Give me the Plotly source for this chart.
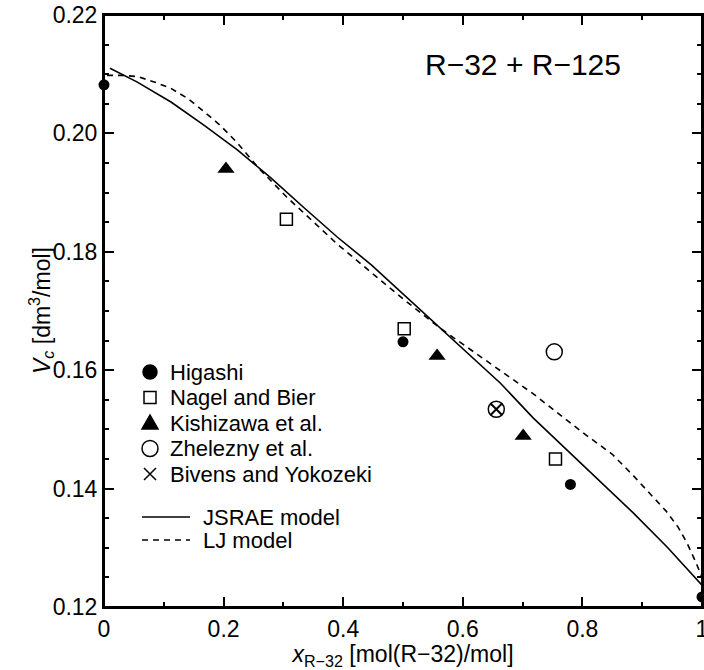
import plotly.graph_objects as go

FONT = "Liberation Sans, Arial, sans-serif"

# measured points
higashi_x = [0.0, 0.500, 0.780, 1.0]
higashi_y = [0.2082, 0.1648, 0.1407, 0.1217]
nagel_x = [0.305, 0.502, 0.755]
nagel_y = [0.1855, 0.1670, 0.1450]
kishizawa_x = [0.204, 0.557, 0.701]
kishizawa_y = [0.1940, 0.1624, 0.1489]
zhelezny_x = [0.656, 0.753]
zhelezny_y = [0.1534, 0.1631]
bivens_x = [0.656]
bivens_y = [0.1534]

# model curves
jsrae_x = [0.01, 0.055, 0.112, 0.167, 0.223, 0.279, 0.335, 0.390, 0.447, 0.502,
           0.562, 0.663, 0.718, 0.797, 0.885, 0.942, 1.0]
jsrae_y = [0.2110, 0.2087, 0.2053, 0.2014, 0.1972, 0.1925, 0.1874, 0.1825, 0.1778,
           0.1727, 0.1671, 0.1578, 0.1519, 0.1443, 0.1359, 0.1301, 0.1237]
lj_x = [0.005, 0.03, 0.056, 0.084, 0.112, 0.140, 0.167, 0.195, 0.223, 0.258, 0.305,
        0.390, 0.447, 0.502, 0.562, 0.634, 0.718, 0.800, 0.850, 0.885, 0.915,
        0.940, 0.960, 0.975, 0.990, 1.0]
lj_y = [0.2098, 0.2098, 0.2096, 0.2087, 0.2076, 0.2059, 0.2037, 0.2013, 0.1984,
        0.1942, 0.1893, 0.1813, 0.1765, 0.1719, 0.1671, 0.1620, 0.1560, 0.1495,
        0.1458, 0.1422, 0.1390, 0.1362, 0.1335, 0.1308, 0.1275, 0.1250]

marker_labels = ["Higashi", "Nagel and Bier", "Kishizawa et al.",
                 "Zhelezny et al.", "Bivens and Yokozeki"]
line_labels = ["JSRAE model", "LJ model"]

# plot area in page pixels (body margin is removed below)
PLOT_L, PLOT_T, PLOT_W, PLOT_H = 104, 15, 598, 592


def px(xw):
    return (xw - PLOT_L) / PLOT_W


def py(yw):
    return (PLOT_T + PLOT_H - yw) / PLOT_H


fig = go.Figure()

fig.add_trace(go.Scatter(
    x=higashi_x, y=higashi_y, mode="markers", name=marker_labels[0], cliponaxis=False,
    marker=dict(symbol="circle", size=11, color="black"),
))
fig.add_trace(go.Scatter(
    x=nagel_x, y=nagel_y, mode="markers", name=marker_labels[1], cliponaxis=False,
    marker=dict(symbol="square-open", size=12, color="black", line=dict(width=1.5)),
))
fig.add_trace(go.Scatter(
    x=kishizawa_x, y=kishizawa_y, mode="markers", name=marker_labels[2], cliponaxis=False,
    marker=dict(symbol="triangle-up", size=15, color="black"),
))
fig.add_trace(go.Scatter(
    x=zhelezny_x, y=zhelezny_y, mode="markers", name=marker_labels[3], cliponaxis=False,
    marker=dict(symbol="circle-open", size=16, color="black", line=dict(width=1.5)),
))
fig.add_trace(go.Scatter(
    x=bivens_x, y=bivens_y, mode="markers", name=marker_labels[4], cliponaxis=False,
    marker=dict(symbol="x-thin-open", size=12, color="black", line=dict(width=2)),
))
fig.add_trace(go.Scatter(
    x=jsrae_x, y=jsrae_y, mode="lines", name=line_labels[0],
    line=dict(color="black", width=1.6),
))
fig.add_trace(go.Scatter(
    x=lj_x, y=lj_y, mode="lines", name=line_labels[1],
    line=dict(color="black", width=1.6, dash="6px,5px"),
))

fig.add_annotation(
    x=0.700, y=0.2116, text="R\u221232 + R\u2212125", showarrow=False,
    font=dict(family=FONT, size=30, color="black"),
)

# y title placed by hand
fig.add_annotation(
    x=px(41), y=0.5, xref="paper", yref="paper", textangle=-90, showarrow=False,
    xanchor="center", yanchor="middle",
    text="<i>V</i><sub><i>c</i></sub> [dm<sup>3</sup>/mol]",
    font=dict(family=FONT, size=23, color="black"),
)

# frame, then a hand-made legend (the printed one is tighter than plotly's)
shapes = [dict(type="rect", xref="paper", yref="paper", x0=0, x1=1, y0=0, y1=1,
               line=dict(color="black", width=2), layer="above")]
for i, label in enumerate(marker_labels):
    yw = 372 + 25.5 * i
    base = dict(xref="paper", yref="paper", xsizemode="pixel", ysizemode="pixel",
                xanchor=px(150), yanchor=py(yw), line=dict(color="black", width=1.5))
    if i == 0:
        shapes.append(dict(base, type="circle", x0=-7, x1=7, y0=-7, y1=7, fillcolor="black"))
    elif i == 1:
        shapes.append(dict(base, type="rect", x0=-6, x1=6, y0=-6, y1=6))
    elif i == 2:
        shapes.append(dict(base, type="path", path="M-8,-6 L8,-6 L0,8 Z", fillcolor="black"))
    elif i == 3:
        shapes.append(dict(base, type="circle", x0=-8, x1=8, y0=-8, y1=8))
    else:
        shapes.append(dict(base, type="path", path="M-6,-6 L6,6 M-6,6 L6,-6"))
    fig.add_annotation(x=px(169), y=py(yw), xref="paper", yref="paper", text=label,
                       showarrow=False, xanchor="left", yanchor="middle", borderpad=0,
                       font=dict(family=FONT, size=22, color="black"))

for i, label in enumerate(line_labels):
    yw = 517 + 23 * i
    shapes.append(dict(type="line", xref="paper", yref="paper", x0=px(142), x1=px(190),
                       y0=py(yw), y1=py(yw),
                       line=dict(color="black", width=1.6, dash="solid" if i == 0 else "6px,5px")))
    fig.add_annotation(x=px(202), y=py(yw), xref="paper", yref="paper", text=label,
                       showarrow=False, xanchor="left", yanchor="middle", borderpad=0,
                       font=dict(family=FONT, size=22, color="black"))

axis_common = dict(
    showline=True, linecolor="black", linewidth=2, mirror="ticks",
    ticks="inside", ticklen=10, tickwidth=1.5, tickcolor="black",
    showgrid=False, zeroline=False, ticklabeloverflow="allow",
    tickfont=dict(family=FONT, size=23, color="black"),
    automargin=False,
)

fig.update_xaxes(
    range=[0, 1], dtick=0.2, tick0=0,
    minor=dict(dtick=0.1, ticks="inside", ticklen=5, tickcolor="black", tickwidth=1.5),
    title=dict(text="<i>x</i><sub>R\u221232</sub> [mol(R\u221232)/mol]",
               font=dict(family=FONT, size=23, color="black"), standoff=0),
    **axis_common,
)
fig.update_yaxes(
    range=[0.12, 0.22], dtick=0.02, tick0=0.12, tickformat=".2f",
    minor=dict(dtick=0.005, ticks="inside", ticklen=5, tickcolor="black", tickwidth=1.5),
    **axis_common,
)

fig.update_layout(
    width=704, height=670,
    margin=dict(l=PLOT_L, r=704 - PLOT_L - PLOT_W, t=PLOT_T, b=670 - PLOT_T - PLOT_H),
    plot_bgcolor="white", paper_bgcolor="white",
    font=dict(family=FONT, color="black"),
    showlegend=False,
    shapes=shapes,
)

# drop the browser's default 8px body margin so the figure fills the window
fig.write_html("out.html", config={"displayModeBar": False},
               post_script="document.body.style.margin = '0';")
